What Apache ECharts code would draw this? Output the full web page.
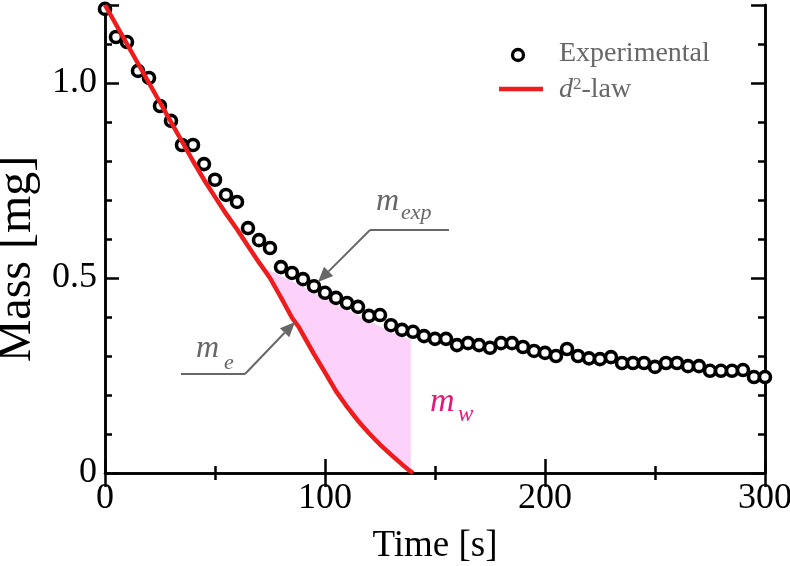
<!DOCTYPE html>
<html>
<head>
<meta charset="utf-8">
<script src="https://cdn.jsdelivr.net/npm/echarts@6/dist/echarts.min.js"></script>
<style>
html,body{margin:0;padding:0;background:#fff;}
#chart{width:790px;height:566px;}
</style>
</head>
<body>
<div id="chart"></div>
<script>
// ---- Data ----
var expTime = [0,5,10,15,20,25,30,35,40,45,50,55,60,65,70,75,80,85,90,95,100,105,110,115,120,125,130,135,140,145,150,155,160,165,170,175,180,185,190,195,200,205,210,215,220,225,230,235,240,245,250,255,260,265,270,275,280,285,290,295,300];
var expMass = [1.19,1.118,1.105,1.031,1.013,0.941,0.903,0.841,0.841,0.792,0.752,0.713,0.695,0.628,0.597,0.577,0.528,0.513,0.497,0.479,0.462,0.449,0.436,0.426,0.403,0.405,0.379,0.367,0.362,0.351,0.344,0.344,0.328,0.333,0.328,0.321,0.333,0.333,0.323,0.313,0.308,0.300,0.318,0.300,0.294,0.292,0.297,0.282,0.282,0.282,0.272,0.282,0.282,0.274,0.274,0.262,0.262,0.262,0.264,0.246,0.246];

var lawTime = [0,10,20,30,40,45,50,55,60,65,70,75,80,85,88,90,95,100,105,110,115,120,125,130,135,138,140];
var lawMass = [1.2,1.10,1.0,0.90,0.80,0.752,0.708,0.665,0.625,0.582,0.54,0.50,0.45,0.398,0.375,0.355,0.305,0.258,0.21,0.17,0.134,0.102,0.073,0.047,0.022,0.008,0];

// upper boundary of the shaded m_w region
var fillTopTime = [71,80,90,100,110,120,130,139];
var fillTopMass = [0.53,0.505,0.478,0.447,0.418,0.39,0.362,0.341];

var xTicks = [0,100,200,300];
var yTicks = [0,0.5,1.0];

var FONT = 'Liberation Serif';
var GREY = '#676767';

function zip(a,b){ return a.map(function(v,i){ return [v,b[i]]; }); }

function lawAt(t){
  for (var i=0;i<lawTime.length-1;i++){
    if (t>=lawTime[i] && t<=lawTime[i+1]){
      var f=(t-lawTime[i])/(lawTime[i+1]-lawTime[i]);
      return lawMass[i]+f*(lawMass[i+1]-lawMass[i]);
    }
  }
  return 0;
}
var tEnd = fillTopTime[fillTopTime.length-1];
var tStart = fillTopTime[0];
var poly = zip(fillTopTime, fillTopMass);
poly.push([tEnd, 0]);
poly.push([tEnd, lawAt(tEnd)]);
for (var i=lawTime.length-1;i>=0;i--){
  if (lawTime[i] < tEnd && lawTime[i] > tStart) poly.push([lawTime[i], lawMass[i]]);
}
poly.push([tStart, lawAt(tStart)]);

var chart = echarts.init(document.getElementById('chart'), null, {renderer:'canvas'});

var axisLine = {show:true, lineStyle:{color:'#000', width:2.5}};
function xAx(pos, labels){
  return {
    type:'value', position:pos, min:0, max:300, interval:100,
    axisLine:axisLine,
    axisTick:{show:true, inside:true, length:14, lineStyle:{color:'#000', width:2.5}},
    minorTick:{show:true, splitNumber:2, length:7, lineStyle:{color:'#000', width:2.5}},
    splitLine:{show:false}, minorSplitLine:{show:false},
    axisLabel:{show:labels, fontFamily:FONT, fontSize:36, color:'#000', margin:8},
    name: labels ? 'Time [s]' : '', nameLocation:'middle', nameGap:55,
    nameTextStyle:{fontFamily:FONT, fontSize:37, color:'#000'}
  };
}
function yAx(pos, interval, len, labels){
  return {
    type:'value', position:pos, min:0, max:1.2, interval:interval, offset:0,
    axisLine:axisLine,
    axisTick:{show:true, inside:true, length:len, lineStyle:{color:'#000', width:2.5}},
    splitLine:{show:false},
    axisLabel:{show:labels, fontFamily:FONT, fontSize:36, color:'#000', margin:8,
      formatter:function(v){
        for (var k=0;k<yTicks.length;k++){
          if (Math.abs(v-yTicks[k])<1e-6) return v===0 ? '0' : yTicks[k].toFixed(1);
        }
        return '';
      }},
    name: labels ? 'Mass [mg]' : '', nameLocation:'middle', nameGap:63, nameRotate:90,
    nameTextStyle:{fontFamily:FONT, fontSize:48, color:'#000', padding:[0,40,0,0]}
  };
}

function arrow(x1,y1,x2,y2){
  var dx=x2-x1, dy=y2-y1, L=Math.sqrt(dx*dx+dy*dy), ux=dx/L, uy=dy/L;
  var hl=15, hw=6.5;
  var bx=x2-ux*hl, by=y2-uy*hl;
  return [
    {type:'line', shape:{x1:x1,y1:y1,x2:bx,y2:by}, style:{stroke:GREY, lineWidth:2}, z:100},
    {type:'polygon', shape:{points:[[x2,y2],[bx-uy*hw,by+ux*hw],[bx+uy*hw,by-ux*hw]]}, style:{fill:GREY}, z:100}
  ];
}

var graphics = [
  // legend
  {type:'circle', shape:{cx:518, cy:55, r:5.5}, style:{fill:'#fff', stroke:'#000', lineWidth:3.3}, z:100},
  {type:'line', shape:{x1:499,y1:89,x2:543,y2:89}, style:{stroke:'#ee1c1c', lineWidth:4.5}, z:100},
  {type:'text', x:559, y:54, style:{text:'Experimental', font:'28px '+FONT, fill:GREY, verticalAlign:'middle'}, z:100},
  {type:'text', x:559, y:90, style:{text:'{i|d}{s|2}{n|-law}', verticalAlign:'middle', fill:GREY,
     rich:{i:{fontFamily:FONT, fontSize:28, fontStyle:'italic', fill:GREY},
           s:{fontFamily:FONT, fontSize:17, fill:GREY, verticalAlign:'top', padding:[0,0,10,0]},
           n:{fontFamily:FONT, fontSize:28, fill:GREY}}}, z:100},
  // m_exp annotation
  {type:'text', x:376, y:202, style:{text:'m', font:'italic 32px '+FONT, fill:GREY, verticalAlign:'middle'}, z:100},
  {type:'text', x:401, y:213, style:{text:'exp', font:'italic 22px '+FONT, fill:GREY, verticalAlign:'middle'}, z:100},
  {type:'line', shape:{x1:370,y1:230,x2:449,y2:230}, style:{stroke:GREY, lineWidth:2}, z:100},
  // m_e annotation
  {type:'text', x:196, y:349, style:{text:'m', font:'italic 32px '+FONT, fill:GREY, verticalAlign:'middle'}, z:100},
  {type:'text', x:224, y:363, style:{text:'e', font:'italic 22px '+FONT, fill:GREY, verticalAlign:'middle'}, z:100},
  {type:'line', shape:{x1:181,y1:374,x2:245,y2:374}, style:{stroke:GREY, lineWidth:2}, z:100},
  // m_w annotation
  {type:'text', x:430, y:402, style:{text:'m', font:'italic 34px '+FONT, fill:'#e4187c', verticalAlign:'middle'}, z:100},
  {type:'text', x:458, y:415, style:{text:'w', font:'italic 23px '+FONT, fill:'#e4187c', verticalAlign:'middle'}, z:100}
].concat(arrow(370,230,318,282)).concat(arrow(245,374,295,322));

chart.setOption({
  animation:false,
  backgroundColor:'#fff',
  grid:{left:105, right:25, top:5, bottom:93, containLabel:false, outerBoundsMode:'none'},
  xAxis:[xAx('bottom', true), xAx('top', false)],
  yAxis:[yAx('left',0.5,14,true), yAx('left',0.1,7,false), yAx('right',0.5,14,false), yAx('right',0.1,7,false)],
  graphic: graphics,
  series:[
    {
      type:'custom', name:'mw', xAxisIndex:0, yAxisIndex:0, z:1,
      data:[[0,0]],
      renderItem:function(params, api){
        var pts = poly.map(function(p){ return api.coord(p); });
        return {type:'polygon', shape:{points:pts}, style:{fill:'#fdd2fa', stroke:null}};
      }
    },
    {
      type:'scatter', name:'Experimental', xAxisIndex:0, yAxisIndex:0, z:3,
      data: zip(expTime, expMass), symbol:'circle', symbolSize:11, clip:false,
      itemStyle:{color:'#fff', borderColor:'#000', borderWidth:3.6, opacity:1}
    },
    {
      type:'line', name:'d2-law', xAxisIndex:0, yAxisIndex:0, z:4,
      data: zip(lawTime, lawMass), showSymbol:false, symbol:'none', smooth:false,
      lineStyle:{color:'#ee1c1c', width:4.5}
    }
  ]
});
</script>
</body>
</html>
